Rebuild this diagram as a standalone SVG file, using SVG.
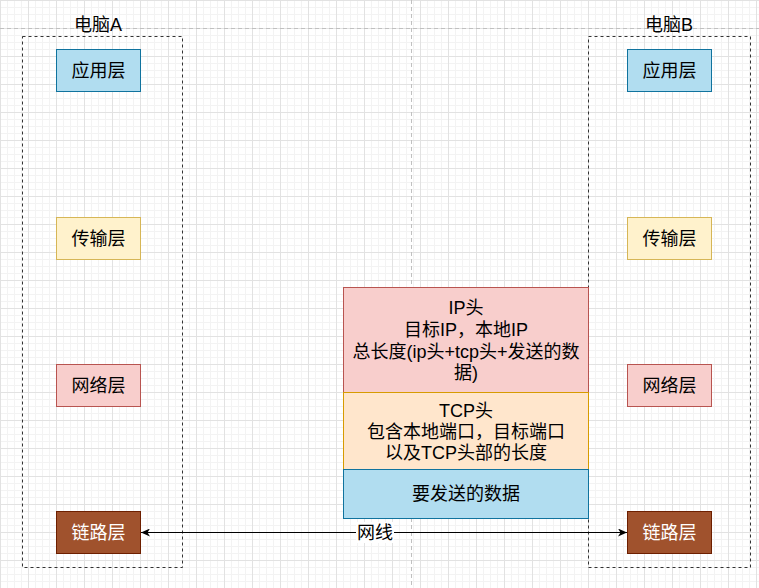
<svg xmlns="http://www.w3.org/2000/svg" width="759" height="588" viewBox="0 0 759 588">
<style>
text{font-family:"Liberation Sans","Noto Sans CJK SC",sans-serif;font-size:18px;text-anchor:middle;fill:#000}
.box{stroke-width:1}
.blue{fill:#b1ddf0;stroke:#10739e}
.yellow{fill:#fff2cc;stroke:#d6b656}
.red{fill:#f8cecc;stroke:#b85450}
.orange{fill:#ffe6cc;stroke:#d79b00}
.brown{fill:#a0522d;stroke:#6d1f00}
.wt{fill:#ffffff}
.cont{fill:none;stroke:#333;stroke-width:1;stroke-dasharray:3 3}
.pb{stroke:#c0c0c0;stroke-width:1;stroke-dasharray:4 3;fill:none}
.edge{stroke:#000;stroke-width:1;fill:none}
</style>
<defs>
<pattern id="grid" width="28" height="28" patternUnits="userSpaceOnUse">
<rect width="28" height="28" fill="#ffffff"/>
<rect x="7" y="0" width="1" height="28" fill="#f3f3f3"/>
<rect x="14" y="0" width="1" height="28" fill="#f3f3f3"/>
<rect x="21" y="0" width="1" height="28" fill="#f3f3f3"/>
<rect x="0" y="7" width="28" height="1" fill="#f3f3f3"/>
<rect x="0" y="14" width="28" height="1" fill="#f3f3f3"/>
<rect x="0" y="21" width="28" height="1" fill="#f3f3f3"/>
<rect x="0" y="0" width="1" height="28" fill="#e2e2e2"/>
<rect x="0" y="0" width="28" height="1" fill="#e2e2e2"/>
</pattern>
<marker id="arr" viewBox="0 0 10 8" refX="9" refY="4" markerWidth="10" markerHeight="8" markerUnits="userSpaceOnUse" orient="auto-start-reverse">
<path d="M0,0 L9,4 L0,8 L2.5,4 z" fill="#000"/>
</marker>
</defs>
<rect width="759" height="588" fill="url(#grid)"/>
<line class="pb" x1="0" y1="28.5" x2="759" y2="28.5"/>
<line class="pb" x1="411.5" y1="0" x2="411.5" y2="588"/>

<g id="computerA">
<rect class="cont" x="22.5" y="36.5" width="160" height="531"/>
<text x="98" y="31">电脑A</text>
</g>
<g id="computerB">
<rect class="cont" x="588.5" y="36.5" width="162" height="531"/>
<text x="669" y="31">电脑B</text>
</g>

<g id="A-app"><rect class="box blue" x="56.5" y="49.5" width="84" height="42"/><text x="98.5" y="77">应用层</text></g>
<g id="A-trans"><rect class="box yellow" x="56.5" y="217.5" width="84" height="42"/><text x="98.5" y="245">传输层</text></g>
<g id="A-net"><rect class="box red" x="56.5" y="364.5" width="84" height="42"/><text x="98.5" y="392">网络层</text></g>
<g id="A-link"><rect class="box brown" x="56.5" y="511.5" width="84" height="42"/><text class="wt" x="98.5" y="539">链路层</text></g>

<g id="B-app"><rect class="box blue" x="627.5" y="49.5" width="84" height="42"/><text x="669.5" y="77">应用层</text></g>
<g id="B-trans"><rect class="box yellow" x="627.5" y="217.5" width="84" height="42"/><text x="669.5" y="245">传输层</text></g>
<g id="B-net"><rect class="box red" x="627.5" y="364.5" width="84" height="42"/><text x="669.5" y="392">网络层</text></g>
<g id="B-link"><rect class="box brown" x="627.5" y="511.5" width="84" height="42"/><text class="wt" x="669.5" y="539">链路层</text></g>

<g id="ip-header">
<rect class="box red" x="343.5" y="287.5" width="245" height="105"/>
<text x="466" y="314">IP头</text>
<text x="466" y="336">目标IP，本地IP</text>
<text x="466" y="358">总长度(ip头+tcp头+发送的数</text>
<text x="466" y="379">据)</text>
</g>
<g id="tcp-header">
<rect class="box orange" x="343.5" y="392.5" width="245" height="77"/>
<text x="466" y="416.5">TCP头</text>
<text x="466" y="438">包含本地端口，目标端口</text>
<text x="466" y="459">以及TCP头部的长度</text>
</g>
<g id="data">
<rect class="box blue" x="343.5" y="469.5" width="245" height="49"/>
<text x="466" y="500">要发送的数据</text>
</g>

<g id="connectors">
<line class="edge" x1="141" y1="532.5" x2="627" y2="532.5" marker-start="url(#arr)" marker-end="url(#arr)"/>
<rect x="356" y="522" width="38" height="21" fill="#ffffff"/>
<text x="375" y="539">网线</text>
</g>
</svg>
